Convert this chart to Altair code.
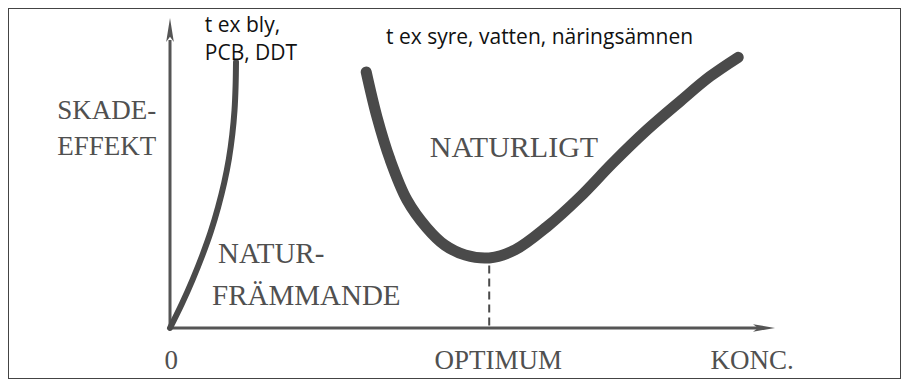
import altair as alt
import pandas as pd

# Naturfrämmande ämne (t ex bly, PCB, DDT): koncentration vs skadeeffekt
foreign_konc = [0, 1.98, 3.77, 5.38, 6.82, 8.02, 9.03, 9.82, 10.38, 10.75, 10.93, 11.0]
foreign_effekt = [0, 7.56, 15.13, 22.66, 30.22, 37.78, 45.34, 52.91, 60.47, 68.0, 75.56, 83.13]

# Naturligt ämne (t ex syre, vatten, näringsämnen)
natural_konc = [32.7, 34.5, 36.7, 39.5, 42.8, 45.8, 49.2, 53.2, 57.5, 62.8,
                68.3, 73.8, 79.5, 85.0, 90.0, 94.7]
natural_effekt = [80.0, 65.9, 52.5, 40.0, 31.3, 25.9, 22.8, 21.9, 24.4, 31.6,
                  40.9, 51.6, 61.9, 70.8, 78.6, 84.6]

# Optimum marker
optimum_konc = [53.2, 53.2]
optimum_effekt = [0.8, 19.7]

# Axes (shaft ends and arrow heads)
axis_x_konc = [0, 98.3]
axis_y_effekt = [0, 90.0]
arrow_up = (0, 93.1)
arrow_right = (99.0, 0)

# Labels
serif_left_text = ["SKADE-", "EFFEKT", "NATUR-", "FRÄMMANDE"]
serif_left_u = [-18.8, -18.8, 8.0, 7.0]
serif_left_v = [65.3, 54.1, 20.3, 7.2]
serif_left_size = [27, 27, 29, 29]

naturligt_text = ["NATURLIGT"]
naturligt_u = [43.3]
naturligt_v = [53.4]

tick_text = ["0", "OPTIMUM", "KONC."]
tick_u = [0.2, 54.7, 97.0]
tick_v = [-12.8, -12.8, -12.8]

sans_text = ["t ex bly,", "PCB, DDT", "t ex syre, vatten, näringsämnen"]
sans_u = [5.8, 5.8, 36.0]
sans_v = [92.5, 83.8, 88.8]

XS = alt.Scale(domain=[-27.0, 121.83], nice=False, zero=False)
YS = alt.Scale(domain=[-15.94, 100.0], nice=False, zero=False)


def xy(df_x="u", df_y="v"):
    return dict(x=alt.X(f"{df_x}:Q", scale=XS, axis=None),
                y=alt.Y(f"{df_y}:Q", scale=YS, axis=None))


ink = "#4a4a4a"
text_ink = "#505050"

foreign = alt.Chart(pd.DataFrame({"u": foreign_konc, "v": foreign_effekt})).mark_line(
    color=ink, strokeWidth=6, interpolate="catmull-rom", strokeCap="round"
).encode(**xy())

natural = alt.Chart(pd.DataFrame({"u": natural_konc, "v": natural_effekt})).mark_line(
    color=ink, strokeWidth=11, interpolate="catmull-rom", strokeCap="round"
).encode(**xy())

optimum = alt.Chart(pd.DataFrame({"u": optimum_konc, "v": optimum_effekt})).mark_line(
    color=ink, strokeWidth=2, strokeDash=[8, 5]
).encode(**xy())

xaxis = alt.Chart(pd.DataFrame({"u": axis_x_konc, "v": [0, 0]})).mark_line(
    color="#555555", strokeWidth=3
).encode(**xy())

yaxis = alt.Chart(pd.DataFrame({"u": [0, 0], "v": axis_y_effekt})).mark_line(
    color="#555555", strokeWidth=3
).encode(**xy())

up_head = alt.Chart(pd.DataFrame({"u": [arrow_up[0]], "v": [arrow_up[1]]})).mark_point(
    shape="M0,-1L0.32,1L0,0.55L-0.32,1Z", filled=True, size=576,
    color="#555555", opacity=1, strokeWidth=0
).encode(**xy())

right_head = alt.Chart(pd.DataFrame({"u": [arrow_right[0]], "v": [arrow_right[1]]})).mark_point(
    shape="M1,0L-1,0.34L-0.55,0L-1,-0.34Z", filled=True, size=484,
    color="#555555", opacity=1, strokeWidth=0
).encode(**xy())

serif_left = alt.Chart(pd.DataFrame({"t": serif_left_text, "u": serif_left_u,
                                     "v": serif_left_v, "s": serif_left_size})).mark_text(
    font="Liberation Serif", align="left", baseline="alphabetic", color=text_ink
).encode(text="t:N", size=alt.Size("s:Q", scale=None, legend=None), **xy())

naturligt = alt.Chart(pd.DataFrame({"t": naturligt_text, "u": naturligt_u, "v": naturligt_v})).mark_text(
    font="Liberation Serif", fontSize=30, align="left", baseline="alphabetic", color=text_ink
).encode(text="t:N", **xy())

ticks = alt.Chart(pd.DataFrame({"t": tick_text, "u": tick_u, "v": tick_v})).mark_text(
    font="Liberation Serif", fontSize=27, align="center", baseline="alphabetic", color=text_ink
).encode(text="t:N", **xy())

sans = alt.Chart(pd.DataFrame({"t": sans_text, "u": sans_u, "v": sans_v})).mark_text(
    font="Open Sans", fontSize=21, align="left", baseline="alphabetic", color="#111111"
).encode(text="t:N", **xy())

chart = alt.layer(
    xaxis, yaxis, up_head, right_head, optimum, foreign, natural,
    serif_left, naturligt, ticks, sans
).properties(
    width=893, height=371, padding=0, autosize="none", background="white"
).configure_view(stroke="#444444", strokeWidth=2)

chart.save("out.html", embed_options={"renderer": "svg", "actions": False})
